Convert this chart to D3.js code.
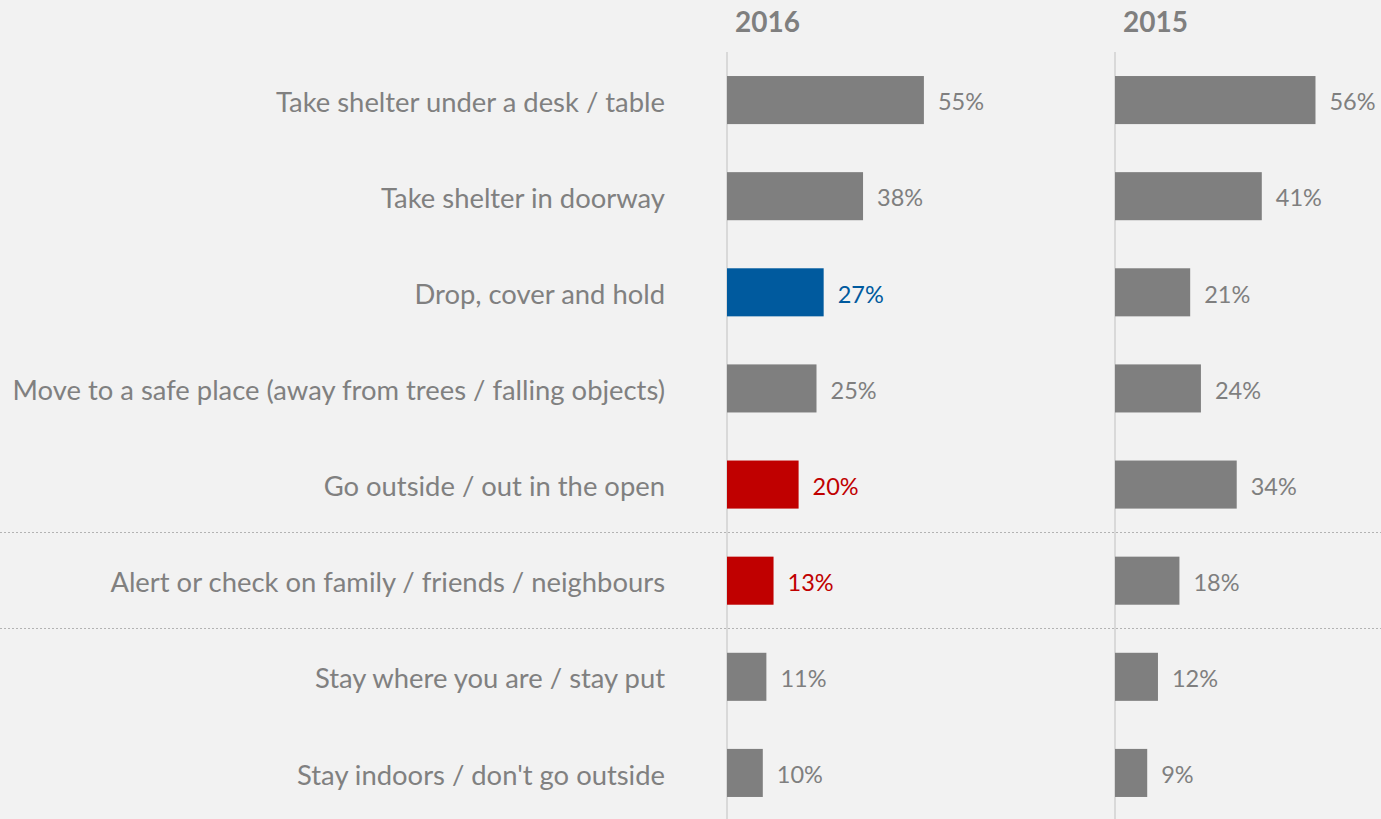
<!DOCTYPE html>
<html>
<head>
<meta charset="utf-8">
<script src="https://cdn.jsdelivr.net/npm/d3@7"></script>
<style>
  html, body { margin: 0; padding: 0; background: #f2f2f2; }
  svg { display: block; font-family: Lato, "Open Sans", sans-serif; }
</style>
</head>
<body>
<div id="vis"></div>
<script>
const width = 1381;
const height = 819;

// chart data
const categories = [
    'Take shelter under a desk / table',
    'Take shelter in doorway',
    'Drop, cover and hold',
    'Move to a safe place (away from trees / falling objects)',
    'Go outside / out in the open',
    'Alert or check on family / friends / neighbours',
    'Stay where you are / stay put',
    "Stay indoors / don't go outside"
];
const values2016 = [55, 38, 27, 25, 20, 13, 11, 10];
const values2015 = [56, 41, 21, 24, 34, 18, 12, 9];
// change flag vs previous year for 2016 (significant up / down)
const change2016 = [null, null, 'up', null, 'down', 'down', null, null];
const years = ['2016', '2015'];
// group breaks after these row indices
const groupBreaks = [4, 5];

const changeColor = { up: '#005a9e', down: '#c00000' };
const grey = '#7f7f7f';

let vis = d3.select('#vis')
            .append('svg')
            .attr('width', width)
            .attr('height', height);

vis.append('rect')
   .attr('width', width)
   .attr('height', height)
   .attr('fill', '#f2f2f2');

// row positions
const y = d3.scaleBand()
            .domain(d3.range(categories.length))
            .range([52, 821])
            .paddingInner(0.5)
            .paddingOuter(0.25);

// dashed separators between groups
vis.append('g')
   .selectAll('line')
   .data(groupBreaks)
   .enter()
   .append('line')
   .attr('x1', 0)
   .attr('x2', width)
   .attr('y1', d => Math.round(y(d) + y.bandwidth() + y.step() * y.paddingInner() / 2) - 0.5)
   .attr('y2', d => Math.round(y(d) + y.bandwidth() + y.step() * y.paddingInner() / 2) - 0.5)
   .attr('stroke', '#b3b3b3')
   .attr('stroke-width', 1)
   .attr('stroke-dasharray', '2,2');

// category labels
vis.append('g')
   .selectAll('text')
   .data(categories)
   .enter()
   .append('text')
   .attr('x', 665)
   .attr('y', (d, i) => y(i) + y.bandwidth() / 2 + 2)
   .attr('dy', '0.35em')
   .attr('text-anchor', 'end')
   .attr('font-size', 27.4)
   .attr('fill', '#808080')
   .text(d => d);

// one panel per year
const panels = [
    { year: years[0], x0: 727, values: values2016, change: change2016 },
    { year: years[1], x0: 1115, values: values2015, change: values2015.map(() => null) }
];

panels.forEach(p => {
    const x = d3.scaleLinear()
                .domain([0, 100])
                .range([p.x0, p.x0 + 358]);

    const g = vis.append('g');

    g.append('text')
     .attr('x', p.x0 + 8)
     .attr('y', 32)
     .attr('font-size', 28)
     .attr('font-weight', 'bold')
     .attr('fill', '#7f7f7f')
     .text(p.year);

    g.append('line')
     .attr('x1', p.x0)
     .attr('x2', p.x0)
     .attr('y1', 52)
     .attr('y2', height)
     .attr('stroke', '#d9d9d9')
     .attr('stroke-width', 2);

    g.selectAll('rect.bar')
     .data(p.values)
     .enter()
     .append('rect')
     .attr('class', 'bar')
     .attr('x', x(0))
     .attr('y', (d, i) => y(i))
     .attr('width', d => x(d) - x(0))
     .attr('height', y.bandwidth())
     .attr('fill', (d, i) => p.change[i] ? changeColor[p.change[i]] : grey);

    g.selectAll('text.val')
     .data(p.values)
     .enter()
     .append('text')
     .attr('class', 'val')
     .attr('x', d => x(d) + 14)
     .attr('y', (d, i) => y(i) + y.bandwidth() / 2 + 2)
     .attr('dy', '0.35em')
     .attr('font-size', 23.5)
     .attr('fill', (d, i) => p.change[i] ? changeColor[p.change[i]] : grey)
     .text(d => d + '%');
});
</script>
</body>
</html>
